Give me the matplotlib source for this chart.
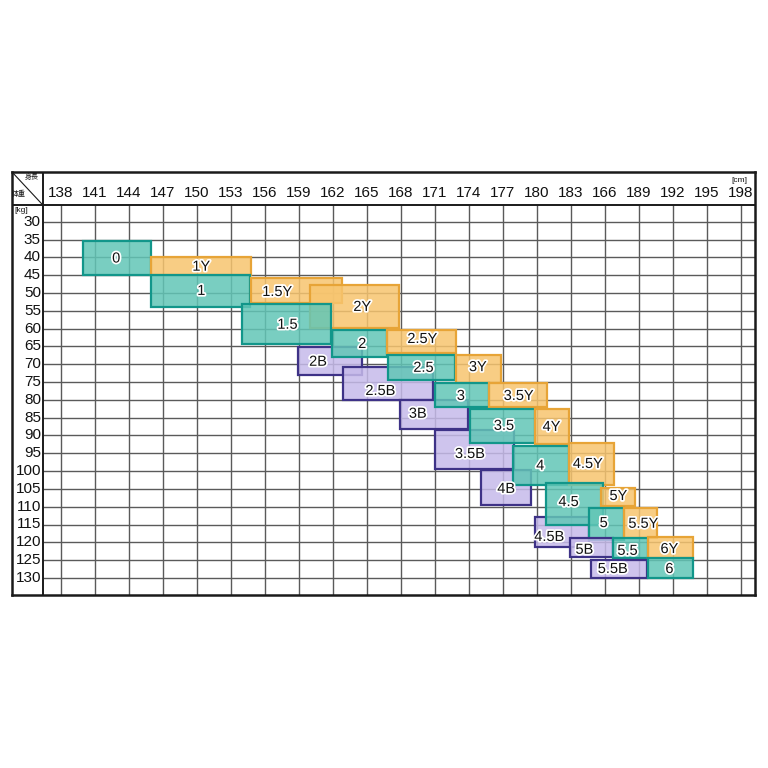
"""
Size chart: height (cm) x weight (kg) blocks for each size
"""

import matplotlib
matplotlib.use('Agg')  # Non-interactive backend
import matplotlib.pyplot as plt
from matplotlib.patches import Rectangle
from matplotlib.colors import to_rgba
import matplotlib.patheffects as pe

plt.rcParams['font.family'] = ['Liberation Sans', 'Noto Sans CJK JP', 'DejaVu Sans']

# Axis values
height_ticks = [138, 141, 144, 147, 150, 153, 156, 159, 162, 165, 168,
                171, 174, 177, 180, 183, 186, 189, 192, 195, 198]
height_labels = ['138', '141', '144', '147', '150', '153', '156', '159', '162', '165', '168',
                 '171', '174', '177', '180', '183', '166', '189', '192', '195', '198']
weight_ticks = [30, 35, 40, 45, 50, 55, 60, 65, 70, 75, 80,
                85, 90, 95, 100, 105, 110, 115, 120, 125, 130]

# Size blocks, listed in drawing order (bottom to top)
sizes = ['0', '1Y', '1', '1.5Y', '2Y', '1.5', '2B', '2', '2.5Y', '2.5B', '2.5',
         '3Y', '3B', '3', '3.5Y', '3.5B', '3.5', '4Y', '4B', '4', '4.5Y',
         '4.5B', '4.5', '5Y', '5', '5.5Y', '5B', '5.5', '6Y', '5.5B', '6']
height_lo = [140, 146, 146, 154.8, 160, 154, 158.9, 161.9, 166.8, 162.9, 166.9,
             172.9, 167.9, 171, 175.8, 171, 174.1, 179.8, 175.1, 177.9, 182.8,
             179.8, 180.8, 185.7, 184.6, 187.7, 182.9, 186.7, 189.8, 184.8, 189.8]
height_hi = [146, 154.8, 154.7, 162.8, 167.8, 161.8, 164.6, 166.8, 172.9, 170.8, 172.8,
             176.8, 173.9, 175.8, 180.9, 178, 179.8, 182.8, 179.5, 182.8, 186.8,
             184.6, 185.8, 188.7, 187.7, 190.6, 186.7, 189.8, 193.8, 189.7, 193.8]
weight_lo = [35.5, 40, 45, 45.7, 47.7, 53, 65.1, 60.3, 60.3, 70.7, 67.4,
             67.4, 80, 75.3, 75.3, 88.4, 82.6, 82.5, 99.7, 92.9, 92.2,
             112.8, 103.3, 104.8, 110.4, 110.3, 118.9, 118.8, 118.4, 125, 124.5]
weight_hi = [45, 45, 54, 52.8, 59.8, 64.3, 73, 67.9, 66.8, 80, 74.4,
             75.2, 88.3, 82, 82, 99.5, 92.2, 92.4, 109.5, 103.9, 103.9,
             121.4, 115.2, 109.7, 119.3, 118.9, 124.2, 124.5, 124.5, 129.9, 129.9]

# Where each size name sits (visible part of its block)
label_at = {
    '0': (142.9, 40.3), '1Y': (150.4, 42.6), '1': (150.4, 49.4), '1.5Y': (157.1, 49.7),
    '2Y': (164.6, 53.9), '1.5': (158.0, 58.9), '2': (164.6, 64.3), '2.5Y': (169.9, 62.9),
    '2B': (160.7, 69.3), '2.5': (170.0, 71.0), '3Y': (174.8, 70.8), '2.5B': (166.2, 77.5),
    '3': (173.3, 78.9), '3.5Y': (178.4, 78.9), '3B': (169.5, 83.9), '3.5': (177.1, 87.3),
    '4Y': (181.3, 87.6), '3.5B': (174.1, 95.2), '4': (180.3, 98.5), '4.5Y': (184.5, 98.0),
    '4B': (177.3, 105.0), '4.5': (182.8, 108.7), '5Y': (187.2, 107.0), '5': (185.9, 114.6),
    '5.5Y': (189.4, 114.8), '4.5B': (181.1, 118.5), '5B': (184.2, 122.1), '5.5': (188.0, 122.4),
    '6Y': (191.7, 121.9), '5.5B': (186.7, 127.5), '6': (191.7, 127.5),
}

# Table extents in data units
X_MIN, X_MAX = 133.7, 199.25
Y_TOP, Y_BOT = 16.0, 134.8
COL_SEP, HEAD_SEP = 136.4, 25.2

STYLES = {
    'Y': ('#f7c56f', '#e7a437'),  # orange
    'B': ('#c6baea', '#3e3287'),  # purple
    '':  ('#62c6b6', '#12968a'),  # teal
}

fig = plt.figure(figsize=(7.68, 7.68), dpi=100)
ax = fig.add_axes([12 / 768, 1 - 595 / 768, 743 / 768, 423 / 768])
ax.set_xlim(X_MIN, X_MAX)
ax.set_ylim(Y_BOT, Y_TOP)
ax.set_xticks([])
ax.set_yticks([])
for sp in ax.spines.values():
    sp.set_linewidth(1.8)
    sp.set_color('#1a1a1a')

# Grid
ax.vlines(height_ticks, HEAD_SEP, Y_BOT, color='#5a5a5a', lw=1.0, zorder=1)
ax.hlines(weight_ticks, COL_SEP, X_MAX, color='#5a5a5a', lw=1.0, zorder=1)
ax.vlines([COL_SEP], Y_TOP, Y_BOT, color='#1a1a1a', lw=1.4, zorder=1)
ax.hlines([HEAD_SEP], X_MIN, X_MAX, color='#1a1a1a', lw=1.4, zorder=1)
ax.plot([X_MIN, COL_SEP], [Y_TOP, HEAD_SEP], color='#1a1a1a', lw=0.8, zorder=1)

# Header texts
for h, lab in zip(height_ticks, height_labels):
    ax.text(h, 21.9, lab, ha='center', va='center', fontsize=11, color='#111')
for w in weight_ticks:
    ax.text(136.25, w, str(w), ha='right', va='center', fontsize=11, color='#111')
ax.text(135.4, 17.6, '身長', ha='center', va='center', fontsize=5, color='#111')
ax.text(134.3, 22.3, '体重', ha='center', va='center', fontsize=5, color='#111')
ax.text(134.5, 26.9, '[kg]', ha='center', va='center', fontsize=6, color='#111')
ax.text(197.9, 18.5, '[cm]', ha='center', va='center', fontsize=6, color='#111')

# Size blocks
for i, name in enumerate(sizes):
    suffix = name[-1] if name[-1] in 'YB' else ''
    face, edge = STYLES[suffix]
    rect = Rectangle((height_lo[i], weight_lo[i]),
                     height_hi[i] - height_lo[i], weight_hi[i] - weight_lo[i],
                     facecolor=to_rgba(face, 0.85), edgecolor=edge, lw=1.6, zorder=2 + i * 0.01)
    ax.add_patch(rect)

for name in sizes:
    x, y = label_at[name]
    ax.text(x, y, name, ha='center', va='center', fontsize=10.5, color='#111', zorder=5,
            path_effects=[pe.withStroke(linewidth=2.5, foreground='white')])

plt.savefig('out.png', dpi=100, facecolor='white')
plt.close(fig)
